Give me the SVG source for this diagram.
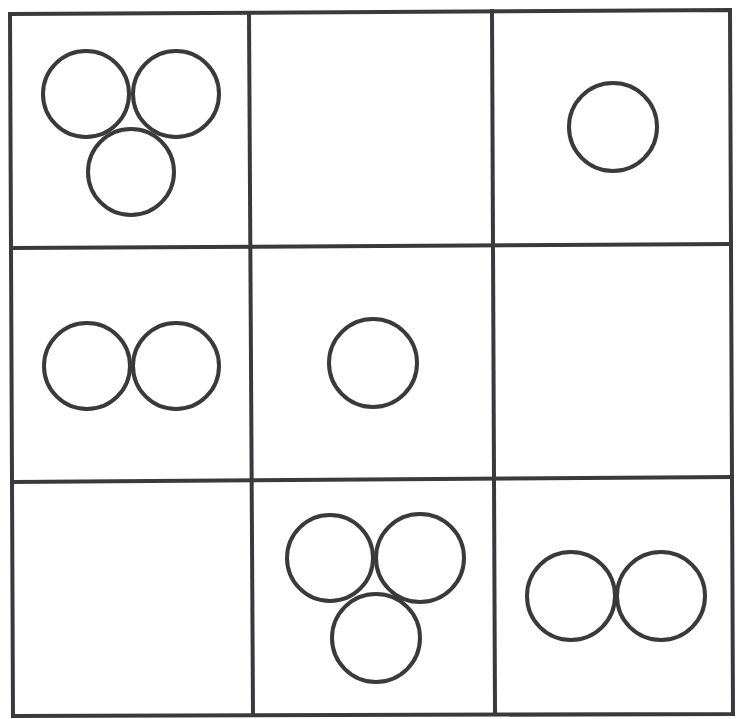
<svg xmlns="http://www.w3.org/2000/svg" width="737" height="719" viewBox="0 0 737 719">
<style>
.g{stroke:#3a3a3e;stroke-width:4;fill:none;stroke-linecap:square}
.c{stroke:#3a3a3a;stroke-width:4;fill:none}
</style>
<rect width="737" height="719" fill="#ffffff"/>
<g id="grid" class="g">
<path d="M10,14 L730,10 L733,714 L13,716 Z"/>
<line x1="249" y1="13" x2="253" y2="715"/>
<line x1="492" y1="11" x2="495" y2="714"/>
<line x1="11" y1="248" x2="731" y2="244"/>
<line x1="12" y1="482" x2="732" y2="477"/>
</g>
<g id="cell-1-1" class="c">
<circle cx="86" cy="94" r="43"/>
<circle cx="176" cy="94" r="43"/>
<circle cx="131" cy="172" r="43"/>
</g>
<g id="cell-1-3" class="c">
<circle cx="613" cy="127" r="44"/>
</g>
<g id="cell-2-1" class="c">
<circle cx="87" cy="366" r="43"/>
<circle cx="176" cy="366" r="43"/>
</g>
<g id="cell-2-2" class="c">
<circle cx="373" cy="363" r="44"/>
</g>
<g id="cell-3-2" class="c">
<circle cx="330" cy="558" r="43"/>
<circle cx="420" cy="558" r="44"/>
<circle cx="376" cy="638" r="44"/>
</g>
<g id="cell-3-3" class="c">
<circle cx="571" cy="596" r="44"/>
<circle cx="661" cy="596" r="44"/>
</g>
</svg>
